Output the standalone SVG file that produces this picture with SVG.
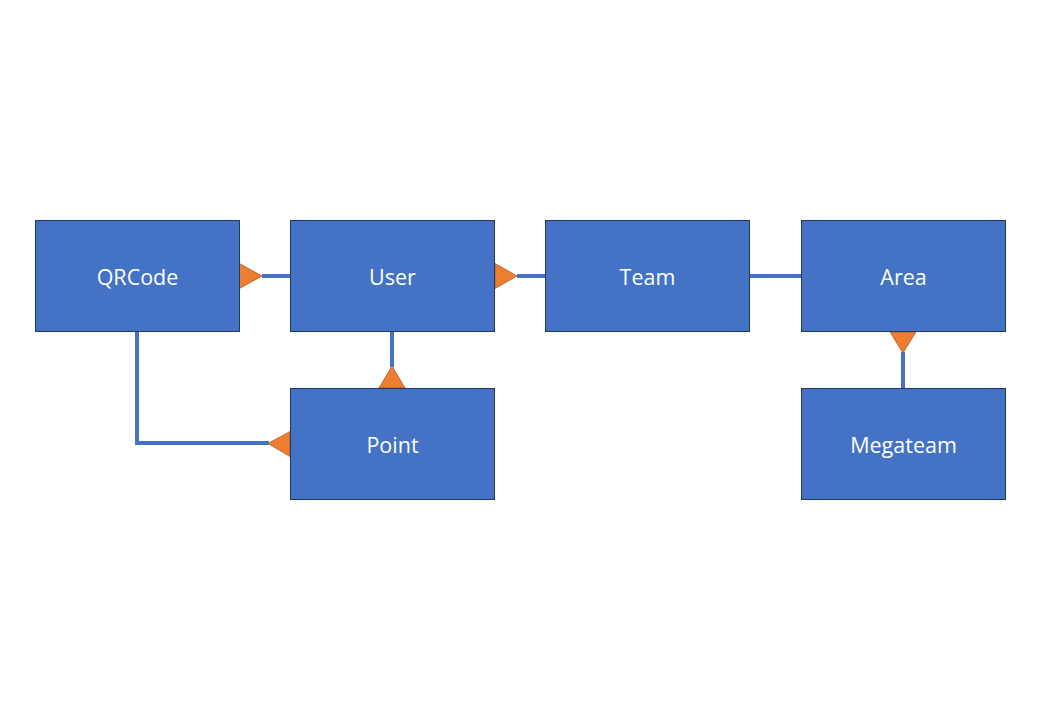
<svg xmlns="http://www.w3.org/2000/svg" width="1040" height="720" viewBox="0 0 1040 720">
<style>
.box{fill:#4472C4;stroke:#1F3864;stroke-width:1}
.lbl{fill:#FFFFFF;font-family:"Open Sans","Noto Sans","Liberation Sans",sans-serif;font-size:21.5px;text-anchor:middle;dominant-baseline:central}
.ln{stroke:#4472C4;stroke-width:4;fill:none}
.tri{fill:#ED7D31;stroke:#AE5A21;stroke-width:0.8}
</style>
<rect width="1040" height="720" fill="#FFFFFF"/>
<g id="connectors">
<path class="ln" d="M262,276 H290"/>
<polygon class="tri" points="239.5,263.5 262,276 239.5,288.5"/>
<path class="ln" d="M517,276 H545"/>
<polygon class="tri" points="495,263.5 517,276 495,288.5"/>
<path class="ln" d="M750,276 H801"/>
<path class="ln" d="M392,332 V367"/>
<polygon class="tri" points="379,388 392,366 405,388"/>
<path class="ln" d="M137,332 V443 H269"/>
<polygon class="tri" points="290,431.5 268,443.5 290,456.5"/>
<path class="ln" d="M903,352 V388"/>
<polygon class="tri" points="890,332 903,353 916,332"/>
</g>
<g id="QRCode"><rect class="box" x="35.5" y="220.5" width="204" height="111"/><text class="lbl" x="137.5" y="276">QRCode</text></g>
<g id="User"><rect class="box" x="290.5" y="220.5" width="204" height="111"/><text class="lbl" x="392.5" y="276">User</text></g>
<g id="Team"><rect class="box" x="545.5" y="220.5" width="204" height="111"/><text class="lbl" x="647.5" y="276">Team</text></g>
<g id="Area"><rect class="box" x="801.5" y="220.5" width="204" height="111"/><text class="lbl" x="903.5" y="276">Area</text></g>
<g id="Point"><rect class="box" x="290.5" y="388.5" width="204" height="111"/><text class="lbl" x="392.5" y="444">Point</text></g>
<g id="Megateam"><rect class="box" x="801.5" y="388.5" width="204" height="111"/><text class="lbl" x="903.5" y="444">Megateam</text></g>
</svg>
